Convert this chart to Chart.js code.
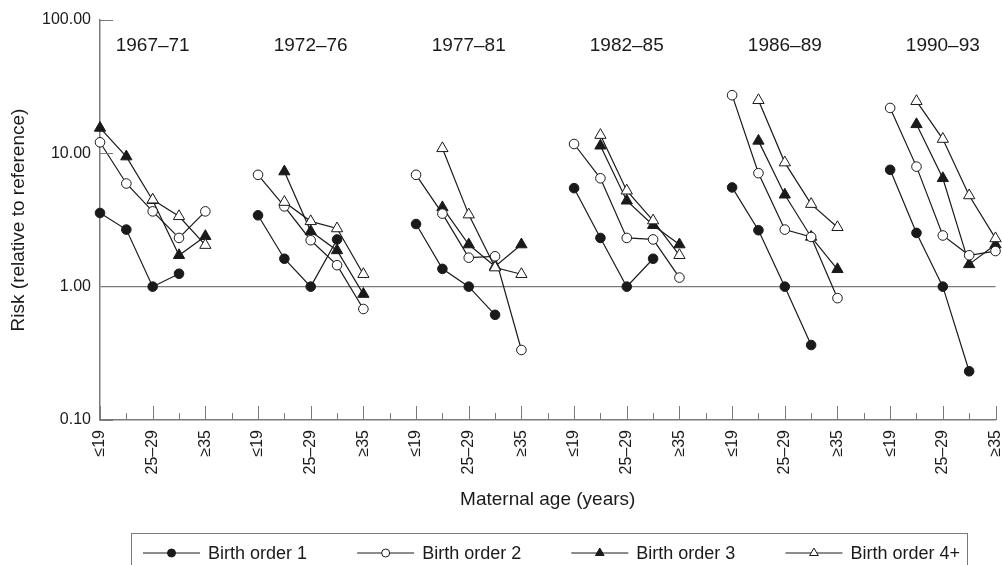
<!DOCTYPE html>
<html>
<head>
<meta charset="utf-8">
<script src="https://cdn.jsdelivr.net/npm/chart.js@4.4.0/dist/chart.umd.min.js"></script>
<style>
  html, body { margin: 0; padding: 0; background: #fff; }
  #wrap { width: 1003px; height: 565px; position: relative; }
</style>
</head>
<body>
<div id="wrap"><canvas id="risk-chart"></canvas></div>
<script>
// periods (one panel each) and maternal age groups
const periods = ['1967–71', '1972–76', '1977–81', '1982–85', '1986–89', '1990–93'];
const ageGroups = ['≤19', '20–24', '25–29', '30–34', '≥35'];
const yTicks = [0.1, 1, 10, 100];

// risk per period, per age group (null = no point)
const birthOrder1 = [
    [3.57, 2.68, 1.00, 1.25, null],
    [3.43, 1.62, 1.00, 2.26, null],
    [2.95, 1.36, 1.00, 0.615, null],
    [5.48, 2.32, 1.00, 1.62, null],
    [5.55, 2.65, 1.00, 0.365, null],
    [7.52, 2.53, 1.00, 0.232, null]
];
const birthOrder2 = [
    [12.1, 5.94, 3.67, 2.32, 3.67],
    [6.9, 4.0, 2.23, 1.45, 0.68],
    [6.9, 3.53, 1.65, 1.69, 0.335],
    [11.75, 6.5, 2.32, 2.26, 1.17],
    [27.3, 7.1, 2.68, 2.36, 0.82],
    [21.9, 7.95, 2.42, 1.72, 1.85]
];
const birthOrder3 = [
    [15.5, 9.45, 4.45, 1.72, 2.39],
    [null, 7.3, 2.6, 1.87, 0.88],
    [null, 3.93, 2.07, 1.42, 2.07],
    [null, 11.4, 4.41, 2.89, 2.07],
    [null, 12.4, 4.89, 2.36, 1.35],
    [null, 16.5, 6.5, 1.47, 2.07]
];
const birthOrder4 = [
    [null, null, 4.49, 3.37, 2.05],
    [null, 4.31, 3.09, 2.73, 1.24],
    [null, 10.9, 3.47, 1.39, 1.24],
    [null, 13.7, 5.24, 3.13, 1.72],
    [null, 25.0, 8.52, 4.16, 2.79],
    [null, 24.6, 12.8, 4.83, 2.3]
];

const FONT = "'Liberation Sans', Arial, Helvetica, sans-serif";
const INK = '#1a1a1a';
const GREY = '#7a7a7a';

// each panel takes 5 slots on the x axis, one empty slot between panels
function toPoints(series) {
    const points = [];
    series.forEach((group, g) => {
        group.forEach((v, a) => points.push({ x: g * 6 + a, y: v }));
        if (g < series.length - 1) points.push({ x: g * 6 + 5, y: null });
    });
    return points;
}

function serie(label, data, style, filled, order) {
    return {
        label: label,
        data: toPoints(data),
        borderColor: INK,
        borderWidth: 1.2,
        pointStyle: style,
        pointRadius: style === 'triangle' ? 6.5 : 4.8,
        pointBackgroundColor: filled ? INK : '#fff',
        pointBorderColor: INK,
        pointBorderWidth: 1,
        tension: 0,
        clip: false,
        order: order
    };
}

const decorations = {
    id: 'decorations',
    afterDraw(chart) {
        const ctx = chart.ctx;
        const x = chart.scales.x;
        const y = chart.scales.y;
        const area = chart.chartArea;
        ctx.save();

        // inward ticks
        ctx.strokeStyle = GREY;
        ctx.lineWidth = 1;
        for (let v = 0; v <= x.max; v++) {
            const px = Math.round(x.getPixelForValue(v)) + 0.5;
            const len = v % 2 === 0 ? 14 : 7;
            ctx.beginPath();
            ctx.moveTo(px, area.bottom);
            ctx.lineTo(px, area.bottom - len);
            ctx.stroke();
        }
        [0.1, 10, 100].forEach(v => {
            const py = Math.round(y.getPixelForValue(v)) + 0.5;
            ctx.beginPath();
            ctx.moveTo(area.left, py);
            ctx.lineTo(area.left + 13, py);
            ctx.stroke();
        });

        // period labels
        ctx.fillStyle = INK;
        ctx.font = '19px ' + FONT;
        ctx.textAlign = 'center';
        ctx.textBaseline = 'middle';
        periods.forEach((p, g) => ctx.fillText(p, x.getPixelForValue(g * 6 + 2), 46));

        // legend box
        ctx.strokeStyle = GREY;
        ctx.lineWidth = 1;
        ctx.strokeRect(131.5, 533.5, 836, 60);

        ctx.font = '18px ' + FONT;
        ctx.textAlign = 'left';
        const lineLen = 57;
        const textGap = 8;
        const datasets = chart.data.datasets;
        const widths = datasets.map(d => lineLen + textGap + ctx.measureText(d.label).width);
        const total = widths.reduce((a, b) => a + b, 0);
        const space = (960 - 143 - total) / (datasets.length - 1);
        const ly = 553;
        let cx = 143;
        datasets.forEach((d, i) => {
            ctx.strokeStyle = INK;
            ctx.lineWidth = 1.2;
            ctx.beginPath();
            ctx.moveTo(cx, ly);
            ctx.lineTo(cx + lineLen, ly);
            ctx.stroke();
            ctx.fillStyle = d.pointBackgroundColor;
            ctx.strokeStyle = INK;
            ctx.lineWidth = 1;
            Chart.helpers.drawPoint(ctx, {
                pointStyle: d.pointStyle,
                radius: d.pointStyle === 'triangle' ? 5 : 4,
                borderWidth: 1,
                rotation: 0
            }, cx + lineLen / 2, ly);
            ctx.fillStyle = INK;
            ctx.fillText(d.label, cx + lineLen + textGap, ly + 1);
            cx += widths[i] + space;
        });

        ctx.restore();
    }
};

new Chart(document.getElementById('risk-chart'), {
    type: 'line',
    data: {
        datasets: [
            serie('Birth order 1', birthOrder1, 'circle', true, 2),
            serie('Birth order 2', birthOrder2, 'circle', false, 1),
            serie('Birth order 3', birthOrder3, 'triangle', true, 3),
            serie('Birth order 4+', birthOrder4, 'triangle', false, 0)
        ]
    },
    options: {
        responsive: true,
        maintainAspectRatio: false,
        animation: false,
        layout: {
            padding: { top: 20, right: 7, bottom: 0, left: 0 }
        },
        plugins: {
            legend: { display: false },
            tooltip: { enabled: false }
        },
        scales: {
            x: {
                type: 'linear',
                min: 0,
                max: 34,
                border: { display: true, color: GREY, width: 1.5 },
                grid: { display: false, drawTicks: false },
                ticks: {
                    stepSize: 1,
                    autoSkip: false,
                    minRotation: 90,
                    maxRotation: 90,
                    padding: 10,
                    color: INK,
                    font: { family: FONT, size: 16 },
                    callback: v => v % 2 === 0 ? ageGroups[v % 6] : ''
                },
                title: {
                    display: true,
                    text: 'Maternal age (years)',
                    color: INK,
                    font: { family: FONT, size: 19 },
                    padding: { top: 0, bottom: 54 }
                },
                afterFit(scale) {
                    scale.height = 145;
                    scale.paddingLeft = 0;
                    scale.paddingRight = 0;
                }
            },
            y: {
                type: 'logarithmic',
                min: 0.1,
                max: 100,
                border: { display: true, color: GREY, width: 1.5 },
                grid: {
                    drawTicks: false,
                    lineWidth: 1.2,
                    color: c => c.tick && c.tick.value === 1 ? GREY : 'rgba(0,0,0,0)'
                },
                ticks: {
                    padding: 9,
                    color: INK,
                    font: { family: FONT, size: 16 },
                    callback: v => Number(v).toFixed(2)
                },
                afterBuildTicks(scale) {
                    scale.ticks = yTicks.map(v => ({ value: v }));
                },
                title: {
                    display: true,
                    text: 'Risk (relative to reference)',
                    color: INK,
                    font: { family: FONT, size: 19 },
                    padding: { top: 7, bottom: 0 }
                },
                afterFit(scale) {
                    scale.width = 100;
                    scale.paddingTop = 0;
                    scale.paddingBottom = 0;
                }
            }
        }
    },
    plugins: [decorations]
});
</script>
</body>
</html>
